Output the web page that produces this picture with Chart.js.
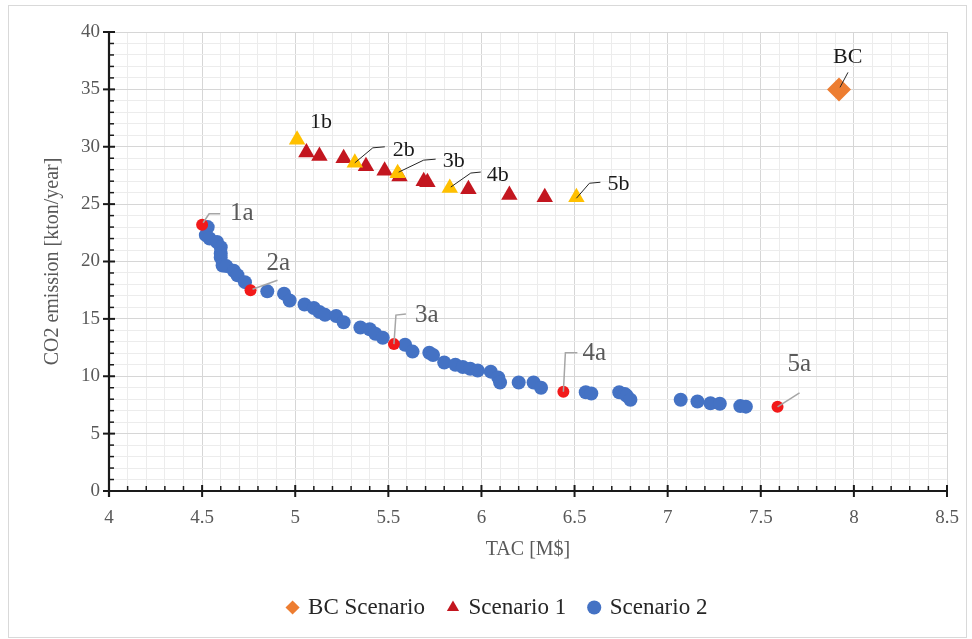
<!DOCTYPE html>
<html>
<head>
<meta charset="utf-8">
<title>TAC vs CO2 emission</title>
<script src="https://cdn.jsdelivr.net/npm/chart.js@4.4.1/dist/chart.umd.min.js"></script>
<style>
    html, body { margin: 0; padding: 0; background: #fff; }
    #frame { position: absolute; left: 8px; top: 5px; width: 957px; height: 631px; border: 1px solid #d9d9d9; }
    #wrap { position: absolute; left: 0; top: 0; width: 972px; height: 639px; }
</style>
</head>
<body>
<div id="frame"></div>
<div id="wrap"><canvas id="chart"></canvas></div>
<script>
// base case
const bcX = [7.92];
const bcY = [35.0];
const bcLabels = ['BC'];

// scenario 1 (red triangles) + highlighted points (yellow)
const s1X = [5.06, 5.13, 5.26, 5.38, 5.48, 5.56, 5.69, 5.71, 5.93, 6.15, 6.34];
const s1Y = [29.5, 29.2, 29.0, 28.3, 27.9, 27.4, 27.0, 26.9, 26.3, 25.8, 25.6];
const s1HiX = [5.01, 5.32, 5.55, 5.83, 6.51];
const s1HiY = [30.6, 28.6, 27.7, 26.4, 25.6];
const s1HiLabels = ['1b', '2b', '3b', '4b', '5b'];

// scenario 2 (blue circles) + highlighted points (red)
const s2X = [4.53, 4.52, 4.54, 4.58, 4.60, 4.60, 4.60, 4.61, 4.63, 4.67, 4.69, 4.73, 4.85, 4.94, 4.97,
    5.05, 5.10, 5.13, 5.16, 5.22, 5.26, 5.35, 5.40, 5.43, 5.47, 5.59, 5.63, 5.72, 5.74, 5.80,
    5.86, 5.90, 5.94, 5.98, 6.05, 6.09, 6.10, 6.20, 6.28, 6.32, 6.56, 6.59, 6.74, 6.77, 6.78,
    6.80, 7.07, 7.16, 7.23, 7.28, 7.39, 7.42];
const s2Y = [23.0, 22.3, 22.0, 21.7, 21.25, 20.7, 20.35, 19.65, 19.6, 19.2, 18.8, 18.2, 17.4, 17.2, 16.6,
    16.25, 15.95, 15.6, 15.35, 15.25, 14.7, 14.25, 14.1, 13.7, 13.35, 12.75, 12.15, 12.05, 11.85, 11.2,
    11.0, 10.8, 10.65, 10.5, 10.4, 9.9, 9.45, 9.45, 9.45, 9.0, 8.6, 8.5, 8.6, 8.45, 8.3,
    7.95, 7.95, 7.8, 7.65, 7.6, 7.4, 7.35];
const s2HiX = [4.50, 4.76, 5.53, 6.44, 7.59];
const s2HiY = [23.2, 17.5, 12.8, 8.65, 7.34];
const s2HiLabels = ['1a', '2a', '3a', '4a', '5a'];

const xTicksMajor = 0.5;
const yTicksMajor = 5;

// callout styling (pixel offsets from the marker)
const CALLOUTS = {
    'BC': { dx: -6, dy: -32, line: [[1, -2], [9, -17]], dark: true },
    '1b': { dx: 13, dy: -18, line: null, dark: true },
    '2b': { dx: 38, dy: -13, line: [[0, 0], [18, -15], [30, -16]], dark: true },
    '3b': { dx: 45, dy: -12, line: [[1, -1], [26, -13], [38, -14]], dark: true },
    '4b': { dx: 37, dy: -13, line: [[1, -1], [21, -15], [31, -16]], dark: true },
    '5b': { dx: 31, dy: -13, line: [[0, 1], [13, -14], [24, -15]], dark: true },
    '1a': { dx: 28, dy: -11, line: [[1, -2], [7, -11], [18, -11]] },
    '2a': { dx: 16, dy: -27, line: [[2, -1], [27, -10]] },
    '3a': { dx: 21, dy: -29, line: [[0, 0], [2, -29], [12, -30]] },
    '4a': { dx: 19, dy: -38, line: [[0, 0], [2, -39], [14, -39]] },
    '5a': { dx: 10, dy: -42, line: [[0, 0], [22, -14]] }
};

const SERIF = '"Liberation Serif", "Times New Roman", serif';

function toPoints(xs, ys) {
    return xs.map((x, i) => ({ x: x, y: ys[i] }));
}

function isMajor(v, step) {
    const r = v / step;
    return Math.abs(r - Math.round(r)) < 1e-6;
}

function fill(n, v) {
    return new Array(n).fill(v);
}

const calloutPlugin = {
    id: 'callouts',
    afterDatasetsDraw(chart) {
        const ctx = chart.ctx;
        chart.data.datasets.forEach((ds, di) => {
            const meta = chart.getDatasetMeta(di);
            (ds.callouts || []).forEach((text, k) => {
                if (!text) return;
                const st = CALLOUTS[text];
                const el = meta.data[k];
                if (!st || !el) return;
                const px = el.x, py = el.y;
                ctx.save();
                if (st.line) {
                    ctx.beginPath();
                    st.line.forEach(([lx, ly], j) => {
                        if (j === 0) ctx.moveTo(px + lx, py + ly);
                        else ctx.lineTo(px + lx, py + ly);
                    });
                    ctx.strokeStyle = st.dark ? '#262626' : '#a6a6a6';
                    ctx.lineWidth = st.dark ? 1 : 1.5;
                    ctx.stroke();
                }
                ctx.fillStyle = st.dark ? '#1a1a1a' : '#595959';
                ctx.font = (st.dark ? 22 : 25) + 'px ' + SERIF;
                ctx.textAlign = 'left';
                ctx.textBaseline = 'middle';
                ctx.fillText(text, px + st.dx, py + st.dy);
                ctx.restore();
            });
        });
    }
};

const axesPlugin = {
    id: 'excelAxes',
    beforeDatasetsDraw(chart) {
        const { ctx, chartArea: a } = chart;
        const xs = chart.scales.x, ys = chart.scales.y;
        const y0 = ys.getPixelForValue(ys.min);
        const x0 = xs.getPixelForValue(xs.min);
        ctx.save();
        ctx.strokeStyle = '#1a1a1a';
        const seg = (x1, y1, x2, y2, w) => {
            ctx.lineWidth = w;
            ctx.beginPath();
            ctx.moveTo(x1, y1);
            ctx.lineTo(x2, y2);
            ctx.stroke();
        };
        seg(a.left - 6, y0, a.right + 1, y0, 2.2);
        xs.ticks.forEach(t => {
            const p = xs.getPixelForValue(t.value);
            if (isMajor(t.value, xTicksMajor)) seg(p, y0 - 6, p, y0 + 6, 2);
            else seg(p, y0 - 5, p, y0, 1.5);
        });
        seg(x0, a.top - 1, x0, a.bottom + 6, 2.2);
        ys.ticks.forEach(t => {
            const p = ys.getPixelForValue(t.value);
            if (isMajor(t.value, yTicksMajor)) seg(x0 - 6, p, x0 + 6, p, 2);
            else seg(x0, p, x0 + 5, p, 1.5);
        });
        ctx.restore();
    }
};

const s1Data = toPoints(s1X, s1Y).concat(toPoints(s1HiX, s1HiY));
const s2Data = toPoints(s2X, s2Y).concat(toPoints(s2HiX, s2HiY));

const chart = new Chart(document.getElementById('chart'), {
    type: 'scatter',
    data: {
        datasets: [
            {
                label: 'BC Scenario',
                data: toPoints(bcX, bcY),
                pointStyle: 'rectRot',
                pointRadius: 12,
                pointHoverRadius: 12,
                backgroundColor: '#ED7D31',
                borderColor: '#ED7D31',
                borderWidth: 0,
                callouts: bcLabels
            },
            {
                label: 'Scenario 1',
                data: s1Data,
                pointStyle: 'triangle',
                pointRadius: 9.5,
                pointHoverRadius: 9.5,
                backgroundColor: fill(s1X.length, '#C3161F').concat(fill(s1HiX.length, '#FFC000')),
                borderColor: fill(s1X.length, '#C3161F').concat(fill(s1HiX.length, '#FFC000')),
                borderWidth: 0,
                callouts: fill(s1X.length, '').concat(s1HiLabels)
            },
            {
                label: 'Scenario 2',
                data: s2Data,
                pointStyle: 'circle',
                pointRadius: fill(s2X.length, 7).concat(fill(s2HiX.length, 6)),
                pointHoverRadius: 7,
                backgroundColor: fill(s2X.length, '#4472C4').concat(fill(s2HiX.length, '#F21A1A')),
                borderColor: fill(s2X.length, '#4472C4').concat(fill(s2HiX.length, '#F21A1A')),
                borderWidth: 0,
                callouts: fill(s2X.length, '').concat(s2HiLabels)
            }
        ]
    },
    options: {
        responsive: true,
        maintainAspectRatio: false,
        animation: false,
        layout: { padding: { left: 49, right: 25, top: 32, bottom: 10 } },
        plugins: {
            tooltip: { enabled: false },
            legend: {
                position: 'bottom',
                labels: {
                    usePointStyle: true,
                    boxWidth: 8,
                    boxHeight: 10,
                    padding: 24,
                    color: '#262626',
                    font: { family: SERIF, size: 23 }
                }
            }
        },
        scales: {
            x: {
                type: 'linear',
                min: 4,
                max: 8.5,
                afterFit: (scale) => {
                    scale.height = 81;
                    scale.paddingLeft = 0;
                    scale.paddingRight = 0;
                },
                border: { display: false },
                grid: {
                    drawTicks: false,
                    lineWidth: 1,
                    color: (c) => isMajor(c.tick.value, xTicksMajor) ? '#d6d6d6' : '#ececec'
                },
                ticks: {
                    stepSize: 0.1,
                    autoSkip: false,
                    maxRotation: 0,
                    padding: 16,
                    color: '#595959',
                    font: { family: SERIF, size: 19 },
                    callback: (v) => isMajor(v, xTicksMajor) ? String(v) : ''
                },
                title: {
                    display: true,
                    text: 'TAC [M$]',
                    color: '#595959',
                    font: { family: SERIF, size: 20 },
                    padding: { top: 0, bottom: 10 }
                }
            },
            y: {
                type: 'linear',
                min: 0,
                max: 40,
                afterFit: (scale) => { scale.width = 60; },
                border: { display: false },
                grid: {
                    drawTicks: false,
                    lineWidth: 1,
                    color: (c) => isMajor(c.tick.value, yTicksMajor) ? '#d6d6d6' : '#ececec'
                },
                ticks: {
                    stepSize: 1,
                    autoSkip: false,
                    padding: 9,
                    color: '#595959',
                    font: { family: SERIF, size: 19 },
                    callback: (v) => isMajor(v, yTicksMajor) ? String(v) : ''
                },
                title: {
                    display: true,
                    text: 'CO2 emission [kton/year]',
                    color: '#595959',
                    font: { family: SERIF, size: 20 },
                    padding: { top: -8, bottom: 0 }
                }
            }
        }
    },
    plugins: [axesPlugin, calloutPlugin]
});
</script>
</body>
</html>
